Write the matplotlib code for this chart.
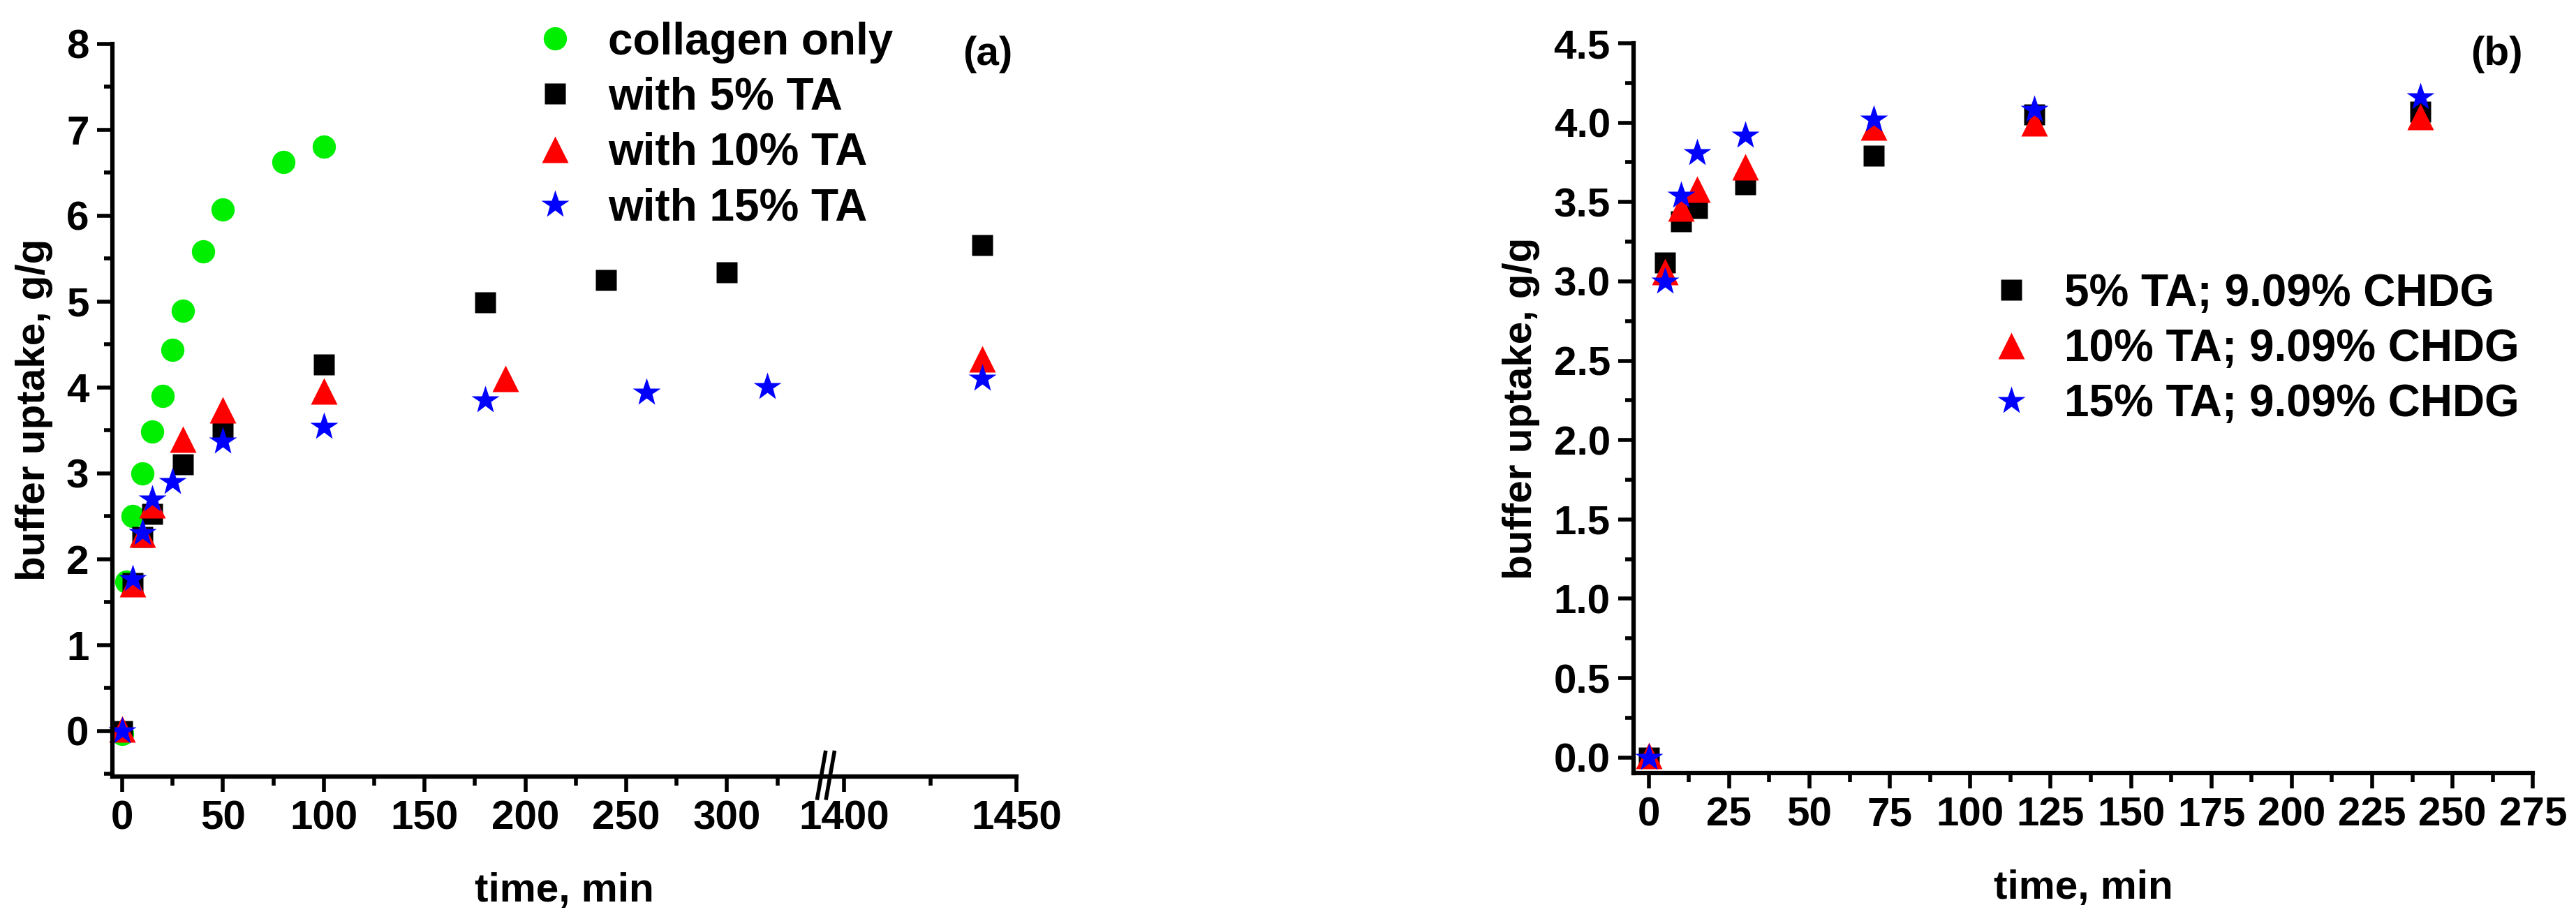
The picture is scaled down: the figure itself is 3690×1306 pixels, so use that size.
import numpy as np
import matplotlib
matplotlib.use("Agg")
import matplotlib.pyplot as plt
from matplotlib.ticker import MultipleLocator, FixedLocator

plt.rcParams['font.family'] = ['Liberation Sans Narrow', 'Liberation Sans', 'DejaVu Sans']
plt.rcParams['font.weight'] = 'bold'

# panel (a) data
t_col = [0, 2, 5, 10, 15, 20, 25, 30, 40, 50, 80, 100]
u_col = [-0.03, 1.74, 2.5, 3.0, 3.49, 3.9, 4.44, 4.89, 5.58, 6.07, 6.62, 6.8]
t_5 = [0, 5, 10, 15, 30, 50, 100, 180, 240, 300, 1440]
u_5 = [0.0, 1.72, 2.26, 2.53, 3.1, 3.53, 4.27, 4.99, 5.25, 5.34, 5.66]
t_10 = [0, 5, 10, 15, 30, 50, 100, 190, 1440]
u_10 = [0.02, 1.71, 2.29, 2.63, 3.4, 3.74, 3.96, 4.1, 4.33]
t_15 = [0, 5, 10, 15, 25, 50, 100, 180, 260, 320, 1440]
u_15 = [0.0, 1.77, 2.31, 2.7, 2.9, 3.37, 3.54, 3.85, 3.94, 4.01, 4.1]

# panel (b) data
tb = [0, 5, 10, 15, 30, 70, 120, 240]
ub_5 = [0.0, 3.12, 3.38, 3.46, 3.61, 3.79, 4.05, 4.07]
ub_10 = [0.01, 3.06, 3.46, 3.58, 3.72, 3.97, 4.0, 4.04]
ub_15 = [0.0, 3.0, 3.54, 3.81, 3.92, 4.02, 4.08, 4.16]


def brk(x):
    # broken time axis: 0-350 linear, then 1400+ compressed segment
    x = np.asarray(x, dtype=float)
    return np.where(x <= 400, x, 358 + (x - 1400) * 1.712)


def style(ax):
    for s in ['top', 'right']:
        ax.spines[s].set_visible(False)
    for s in ['left', 'bottom']:
        ax.spines[s].set_linewidth(4.5)
    ax.tick_params(which='major', direction='out', length=16, width=4, labelsize=42, pad=8)
    ax.tick_params(which='minor', direction='out', length=9, width=4)
    for lab in ax.get_xticklabels() + ax.get_yticklabels():
        lab.set_fontweight('bold')


fig = plt.figure(figsize=(36.91, 13.06), dpi=100)
ax1 = fig.add_axes([0.0436, 0.1485, 0.3509, 0.8035])
ax2 = fig.add_axes([0.634, 0.152, 0.349, 0.8005])

ax1.plot(brk(t_col), u_col, 'o', color='#00ee00', ms=24, mec='none', label='collagen only', clip_on=False)
ax1.plot(brk(t_5), u_5, 's', color='black', ms=22, mec='none', label='with 5% TA', clip_on=False)
ax1.plot(brk(t_10), u_10, '^', color='red', ms=28, mec='none', label='with 10% TA', clip_on=False)
ax1.plot(brk(t_15), u_15, '*', color='blue', ms=30, mec='none', label='with 15% TA', clip_on=False)

ax1.set_xlim(-4.9, 443.6)
ax1.set_ylim(-0.53, 8)
major = [0, 50, 100, 150, 200, 250, 300, 1400, 1450]
minor = [25, 75, 125, 175, 225, 275, 325, 1425]
ax1.xaxis.set_major_locator(FixedLocator(brk(major)))
ax1.set_xticklabels([str(m) for m in major])
ax1.xaxis.set_minor_locator(FixedLocator(brk(minor)))
ax1.yaxis.set_major_locator(MultipleLocator(1))
ax1.yaxis.set_minor_locator(MultipleLocator(0.5))
style(ax1)
ax1.set_xlabel('time, min', fontsize=42, fontweight='bold', labelpad=36)
ax1.set_ylabel('buffer uptake, g/g', fontsize=42, fontweight='bold', labelpad=14)
# break mark
xb = 349
for dx in (-2.2, 2.2):
    ax1.plot([xb + dx - 2, xb + dx + 2], [-0.78, -0.25], color='black', lw=4, clip_on=False)
ax1.text(0.968, 0.985, '(a)', transform=ax1.transAxes, fontsize=42, fontweight='bold', ha='center', va='center')
ax1.legend(loc='upper left', bbox_to_anchor=(0.44, 1.055), frameon=False,
           handletextpad=0.6, labelspacing=0.3, borderaxespad=0, handlelength=1.2,
           prop={'weight': 'bold', 'size': 46})

ax2.plot(tb, ub_5, 's', color='black', ms=22, mec='none', label='5% TA; 9.09% CHDG', clip_on=False)
ax2.plot(tb, ub_10, '^', color='red', ms=28, mec='none', label='10% TA; 9.09% CHDG', clip_on=False)
ax2.plot(tb, ub_15, '*', color='blue', ms=30, mec='none', label='15% TA; 9.09% CHDG', clip_on=False)
ax2.set_xlim(-4.7, 275)
ax2.set_ylim(-0.1, 4.5)
ax2.xaxis.set_major_locator(MultipleLocator(25))
ax2.xaxis.set_minor_locator(MultipleLocator(12.5))
ax2.yaxis.set_major_locator(MultipleLocator(0.5))
ax2.yaxis.set_minor_locator(MultipleLocator(0.25))
ax2.yaxis.set_major_formatter(matplotlib.ticker.FormatStrFormatter('%.1f'))
style(ax2)
ax2.set_xlabel('time, min', fontsize=42, fontweight='bold', labelpad=36)
ax2.set_ylabel('buffer uptake, g/g', fontsize=42, fontweight='bold', labelpad=14)
ax2.text(0.96, 0.985, '(b)', transform=ax2.transAxes, fontsize=42, fontweight='bold', ha='center', va='center')
ax2.legend(loc='upper left', bbox_to_anchor=(0.37, 0.71), frameon=False,
           handletextpad=0.6, labelspacing=0.3, borderaxespad=0, handlelength=1.2,
           prop={'weight': 'bold', 'size': 46})

fig.savefig('out.png', dpi=100)
